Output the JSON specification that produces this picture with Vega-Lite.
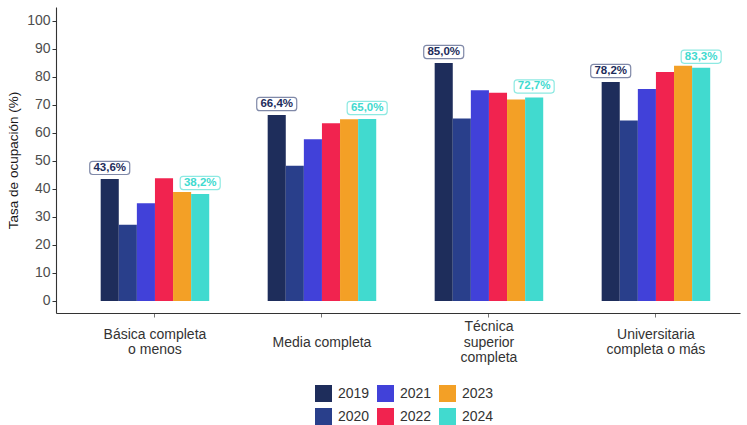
{
  "$schema": "https://vega.github.io/schema/vega-lite/v6.json",
  "autosize": {"type": "none"},
  "padding": {"left": 56, "top": 7, "right": 7, "bottom": 112},
  "width": 684,
  "height": 306,
  "config": {
    "view": {"stroke": null},
    "font": "Liberation Sans",
    "axis": {"grid": false, "domainColor": "#333333", "domainWidth": 1.1, "tickColor": "#333333", "tickSize": 4, "labelFont": "Liberation Sans", "labelFontSize": 14, "labelColor": "#4d4d4d", "titleFont": "Liberation Sans", "titleFontSize": 13.5, "titleFontWeight": "normal", "titleColor": "#1a1a1a"}
  },
  "data": {
    "values": [
      {"nivel": "Básica completa o menos", "anio": "2019", "valor": 43.6},
      {"nivel": "Básica completa o menos", "anio": "2020", "valor": 27.2},
      {"nivel": "Básica completa o menos", "anio": "2021", "valor": 34.9},
      {"nivel": "Básica completa o menos", "anio": "2022", "valor": 43.8},
      {"nivel": "Básica completa o menos", "anio": "2023", "valor": 38.9},
      {"nivel": "Básica completa o menos", "anio": "2024", "valor": 38.2},
      {"nivel": "Media completa", "anio": "2019", "valor": 66.4},
      {"nivel": "Media completa", "anio": "2020", "valor": 48.3},
      {"nivel": "Media completa", "anio": "2021", "valor": 57.8},
      {"nivel": "Media completa", "anio": "2022", "valor": 63.5},
      {"nivel": "Media completa", "anio": "2023", "valor": 64.9},
      {"nivel": "Media completa", "anio": "2024", "valor": 65.0},
      {"nivel": "Técnica superior completa", "anio": "2019", "valor": 85.0},
      {"nivel": "Técnica superior completa", "anio": "2020", "valor": 65.2},
      {"nivel": "Técnica superior completa", "anio": "2021", "valor": 75.3},
      {"nivel": "Técnica superior completa", "anio": "2022", "valor": 74.4},
      {"nivel": "Técnica superior completa", "anio": "2023", "valor": 72.0},
      {"nivel": "Técnica superior completa", "anio": "2024", "valor": 72.7},
      {"nivel": "Universitaria completa o más", "anio": "2019", "valor": 78.2},
      {"nivel": "Universitaria completa o más", "anio": "2020", "valor": 64.5},
      {"nivel": "Universitaria completa o más", "anio": "2021", "valor": 75.7},
      {"nivel": "Universitaria completa o más", "anio": "2022", "valor": 81.8},
      {"nivel": "Universitaria completa o más", "anio": "2023", "valor": 84.0},
      {"nivel": "Universitaria completa o más", "anio": "2024", "valor": 83.3}
    ]
  },
  "encoding": {
    "x": {
      "field": "nivel", "type": "nominal", "sort": null,
      "scale": {"paddingInner": 0.35, "paddingOuter": 0.223, "align": 0.6},
      "axis": {
        "title": null, "labelAngle": 0, "labelBaseline": "middle", "labelLineHeight": 15.5, "labelColor": "#333333", "tickColor": "#777777",
        "labelPadding": {"condition": [
          {"test": "datum.value == 'Media completa'", "value": 25},
          {"test": "datum.value == 'Técnica superior completa'", "value": 9.5}
        ], "value": 17.3},
        "labelExpr": "datum.value == 'Básica completa o menos' ? ['Básica completa', 'o menos'] : datum.value == 'Técnica superior completa' ? ['Técnica', 'superior', 'completa'] : datum.value == 'Universitaria completa o más' ? ['Universitaria', 'completa o más'] : datum.value"
      }
    },
    "xOffset": {"field": "anio", "type": "nominal", "scale": {"paddingInner": 0, "paddingOuter": 0}},
    "y": {
      "field": "valor", "type": "quantitative",
      "scale": {"domain": [-4.3, 105], "nice": false, "zero": false},
      "axis": {"title": "Tasa de ocupación (%)", "values": [0, 10, 20, 30, 40, 50, 60, 70, 80, 90, 100], "labelPadding": 2, "titlePadding": 6}
    }
  },
  "layer": [
    {
      "mark": {"type": "bar"},
      "encoding": {
        "y2": {"datum": 0},
        "color": {
          "field": "anio", "type": "nominal",
          "scale": {"domain": ["2019", "2021", "2023", "2020", "2022", "2024"], "range": ["#1e2d5b", "#4141d9", "#f3a026", "#293f8b", "#f1234f", "#41dacf"]},
          "legend": {"title": null, "orient": "none", "legendX": 259, "legendY": 378, "direction": "horizontal", "columns": 3, "symbolType": "square", "symbolSize": 289, "symbolStrokeWidth": 0, "labelFont": "Liberation Sans", "labelFontSize": 14, "labelColor": "#333333", "labelOffset": 6, "columnPadding": 7, "rowPadding": 6, "padding": 0}
        }
      }
    },
    {
      "transform": [{"filter": "datum.anio == '2019' || datum.anio == '2024'"}],
      "mark": {"type": "point", "shape": "M-0.85,-0.33 H0.85 A0.15,0.15 0 0 1 1,-0.18 V0.18 A0.15,0.15 0 0 1 0.85,0.33 H-0.85 A0.15,0.15 0 0 1 -1,0.18 V-0.18 A0.15,0.15 0 0 1 -0.85,-0.33 Z", "size": 1600, "fill": "white", "fillOpacity": 1, "strokeWidth": 1.2, "strokeOpacity": 0.6, "opacity": 1, "yOffset": -11},
      "encoding": {
        "stroke": {"field": "anio", "type": "nominal", "scale": {"domain": ["2019", "2024"], "range": ["#2b3a6e", "#41dacf"]}, "legend": null}
      }
    },
    {
      "transform": [
        {"filter": "datum.anio == '2019' || datum.anio == '2024'"},
        {"calculate": "replace(format(datum.valor, '.1f'), '.', ',') + '%'", "as": "etiqueta"}
      ],
      "mark": {"type": "text", "fontWeight": "bold", "fontSize": 11.5, "baseline": "middle", "align": "center", "yOffset": -11},
      "encoding": {
        "text": {"field": "etiqueta"},
        "color": {"field": "anio", "type": "nominal"}
      }
    }
  ]
}
